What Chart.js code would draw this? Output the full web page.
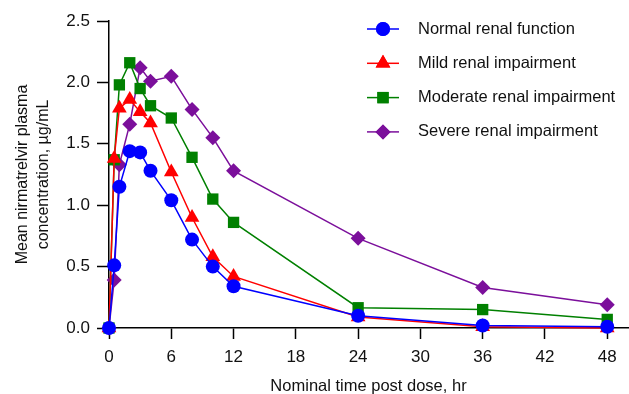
<!DOCTYPE html>
<html>
<head>
<meta charset="utf-8">
<script src="https://cdn.jsdelivr.net/npm/chart.js@4"></script>
<style>
  html, body { margin: 0; padding: 0; background: #fff; }
  #wrap { width: 629px; height: 394px; }
</style>
</head>
<body>
<div id="wrap"><canvas id="myChart" width="629" height="394"></canvas></div>
<script>
// time points (hr)
const times = [0, 0.5, 1, 2, 3, 4, 6, 8, 10, 12, 24, 36, 48];

// mean concentrations, ug/mL
const normal   = [0, 0.51, 1.15, 1.44, 1.43, 1.28, 1.04, 0.72, 0.50, 0.34, 0.10, 0.02, 0.01];
const mild     = [0, 1.38, 1.79, 1.86, 1.76, 1.67, 1.27, 0.90, 0.58, 0.42, 0.09, 0.01, 0.00];
const moderate = [0, 1.37, 1.98, 2.16, 1.95, 1.81, 1.71, 1.39, 1.05, 0.86, 0.165, 0.15, 0.07];
const severe   = [0, 0.39, 1.33, 1.66, 2.12, 2.01, 2.05, 1.78, 1.55, 1.28, 0.73, 0.33, 0.19];

const seriesNames = ["Normal renal function", "Mild renal impairment", "Moderate renal impairment", "Severe renal impairment"];
const xTicks = [0, 6, 12, 18, 24, 30, 36, 42, 48];
const yTicks = [0, 0.5, 1.0, 1.5, 2.0, 2.5];

const FONT = "'Liberation Sans', Arial, sans-serif";

function pts(vals){
    return times.map((t, i) => ({x: t, y: vals[i]}));
}

function mkSet(label, vals, color, style, r){
    return {
        label: label,
        data: pts(vals),
        borderColor: color,
        backgroundColor: color,
        pointStyle: style,
        pointRadius: r,
        pointHoverRadius: r,
        pointBorderWidth: 0,
        borderWidth: 1.5,
        tension: 0,
        clip: false
    };
}

const sets = [
    mkSet(seriesNames[0], normal, "#0000ff", "circle", 7),
    mkSet(seriesNames[1], mild, "#ff0000", "triangle", 8.5),
    mkSet(seriesNames[2], moderate, "#008000", "rect", 8),
    mkSet(seriesNames[3], severe, "#7b0f9b", "rectRot", 7.5)
];

// legend with line through marker, drawn on the canvas
const lineLegend = {
    id: "lineLegend",
    afterDraw(chart){
        const ctx = chart.ctx;
        ctx.save();
        chart.data.datasets.forEach((ds, i) => {
            const y = 29 + i * 34.3;
            ctx.strokeStyle = ds.borderColor;
            ctx.lineWidth = 1.5;
            ctx.beginPath();
            ctx.moveTo(367, y);
            ctx.lineTo(399, y);
            ctx.stroke();
            ctx.fillStyle = ds.backgroundColor;
            Chart.helpers.drawPoint(ctx, {pointStyle: ds.pointStyle, radius: ds.pointRadius, borderWidth: 0}, 383, y);
            ctx.fill();
            ctx.fillStyle = "#111";
            ctx.font = "16.5px " + FONT;
            ctx.textBaseline = "middle";
            ctx.fillText(ds.label, 418, y);
        });
        ctx.restore();
    }
};

const ctx = document.getElementById("myChart").getContext("2d");
const myChart = new Chart(ctx, {
    type: "line",
    data: { datasets: sets },
    plugins: [lineLegend],
    options: {
        responsive: false,
        animation: false,
        layout: { autoPadding: false, padding: { top: 21, right: 1, left: 12, bottom: 0 } },
        plugins: {
            legend: { display: false },
            tooltip: { enabled: false }
        },
        scales: {
            x: {
                type: "linear",
                min: 0,
                max: 50,
                afterBuildTicks: s => { s.ticks = xTicks.map(v => ({value: v})); },
                afterFit: s => { s.height = 66; s.paddingRight = 0; s.paddingLeft = 0; },
                grid: { drawOnChartArea: false, color: "#000", tickLength: 11, tickWidth: 1.5 },
                border: { color: "#000", width: 1.5 },
                ticks: { color: "#111", font: { size: 17, family: FONT }, padding: 8, maxRotation: 0 },
                title: { display: true, text: "Nominal time post dose, hr", color: "#111", font: { size: 16.5, family: FONT }, padding: { top: 4, bottom: -2 } }
            },
            y: {
                min: 0,
                max: 2.5,
                afterBuildTicks: s => { s.ticks = yTicks.map(v => ({value: v})); },
                afterFit: s => { s.width = 97; s.paddingTop = 0; s.paddingBottom = 0; },
                grid: { drawOnChartArea: false, color: "#000", tickLength: 12, tickWidth: 1.5 },
                border: { color: "#000", width: 1.5 },
                ticks: { color: "#111", font: { size: 17, family: FONT }, padding: 7, callback: v => v.toFixed(1) },
                title: { display: true, text: ["Mean nirmatrelvir plasma", "concentration, \u00b5g/mL"], color: "#111", font: { size: 16, family: FONT, lineHeight: 1.3 }, padding: { top: 0, bottom: 4 } }
            }
        }
    }
});
</script>
</body>
</html>
